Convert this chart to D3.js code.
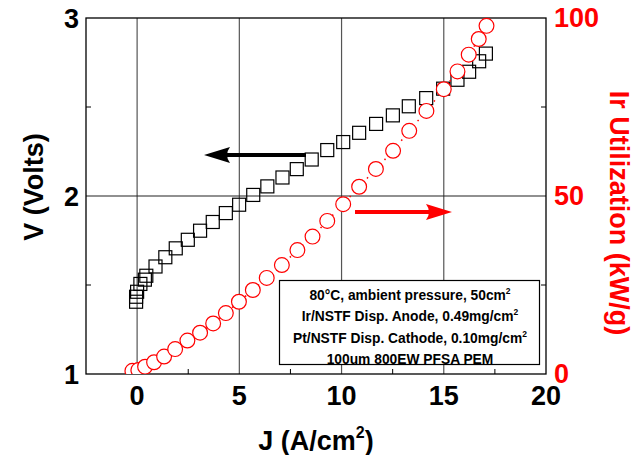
<!DOCTYPE html>
<html>
<head>
<meta charset="utf-8">
<script src="https://cdn.jsdelivr.net/npm/d3@7"></script>
<style>
	body { margin: 0; background: #fff; }
	svg { display: block; font-family: "Liberation Sans", Arial, sans-serif; font-weight: bold; }
</style>
</head>
<body>
<svg id="chart" width="633" height="455"></svg>
<script>
// polarization curve (squares), J in A/cm2, V in volts
var vJ = [-0.05, -0.05, 0.0, 0.16, 0.38, 0.45, 0.9, 1.38, 1.89, 2.48, 3.08, 3.70, 4.34, 4.99,
	5.68, 6.37, 7.11, 7.81, 8.54, 9.30, 10.08, 10.86, 11.69, 12.51, 13.29, 14.14, 14.97, 15.67, 16.24, 16.73, 17.06]
var vV = [1.406, 1.434, 1.462, 1.506, 1.53, 1.552, 1.604, 1.656, 1.706, 1.754, 1.805, 1.854, 1.904, 1.951,
	2.006, 2.054, 2.104, 2.151, 2.205, 2.258, 2.303, 2.355, 2.405, 2.453, 2.504, 2.55, 2.603, 2.653, 2.698, 2.757, 2.80]

// Ir utilization (circles), kW/g
var uJ = [-0.23, 0.06, 0.39, 0.83, 1.32, 1.86, 2.46, 3.08, 3.72, 4.34, 4.98, 5.66, 6.34, 7.08, 7.84,
	8.58, 9.30, 10.08, 10.86, 11.68, 12.52, 13.31, 14.15, 15.0, 15.67, 16.22, 16.71, 17.09]
var uU = [0.9, 1.1, 2.05, 3.3, 4.9, 7.0, 9.4, 11.6, 14.2, 17.1, 20.3, 23.6, 27.0, 30.6, 34.8,
	38.6, 43.0, 47.7, 52.6, 57.6, 62.7, 68.3, 73.9, 80.0, 85.0, 89.7, 94.1, 97.8]

var xTicks = [0, 5, 10, 15, 20]
var xMinor = [2.5, 7.5, 12.5, 17.5]
var vTicks = [1, 2, 3]
var vMinor = [1.5, 2.5]
var uTicks = [0, 50, 100]
var uMinor = [25, 75]

var noteLines = [
	["80\u00b0C, ambient pressure, 50cm", "2"],
	["Ir/NSTF Disp. Anode, 0.49mg/cm", "2"],
	["Pt/NSTF Disp. Cathode, 0.10mg/cm", "2"],
	["100um 800EW PFSA PEM", ""]
]

var plotL = 86, plotR = 546, plotT = 18, plotB = 374
var red = "#ff0000"

var svg = d3.select('#chart')

var x = d3.scaleLinear().domain([-2.5, 20]).range([plotL, plotR])
var yV = d3.scaleLinear().domain([1, 3]).range([plotB, plotT])
var yU = d3.scaleLinear().domain([0, 100]).range([plotB, plotT])

svg.append('defs').append('clipPath').attr('id', 'plotclip')
	.append('rect')
	.attr('x', plotL).attr('y', plotT - 10)
	.attr('width', plotR - plotL + 10).attr('height', plotB - plotT + 10)

// grid lines
svg.selectAll('.vgrid')
	.data(xTicks.filter(d => d < 20))
	.join('line')
		.attr('x1', d => x(d)).attr('x2', d => x(d))
		.attr('y1', plotT).attr('y2', plotB)
		.attr('stroke', '#555').attr('stroke-width', 1.2)

svg.append('line')
	.attr('x1', plotL).attr('x2', plotR)
	.attr('y1', yV(2)).attr('y2', yV(2))
	.attr('stroke', '#222').attr('stroke-width', 1.2)

// minor ticks
svg.selectAll('.xminor')
	.data(xMinor)
	.join('line')
		.attr('x1', d => x(d)).attr('x2', d => x(d))
		.attr('y1', plotB).attr('y2', plotB - 5)
		.attr('stroke', '#000')

svg.selectAll('.vminor')
	.data(vMinor)
	.join('line')
		.attr('x1', plotL).attr('x2', plotL + 5)
		.attr('y1', d => yV(d)).attr('y2', d => yV(d))
		.attr('stroke', '#000')

svg.selectAll('.uminor')
	.data(uMinor)
	.join('line')
		.attr('x1', plotR).attr('x2', plotR - 5)
		.attr('y1', d => yU(d)).attr('y2', d => yU(d))
		.attr('stroke', '#000')

// frame
svg.append('rect')
	.attr('x', plotL).attr('y', plotT)
	.attr('width', plotR - plotL).attr('height', plotB - plotT)
	.attr('fill', 'none').attr('stroke', '#000').attr('stroke-width', 1.3)

// note box
var noteG = svg.append('g')
noteG.append('rect')
	.attr('x', 279.5).attr('y', 280.5)
	.attr('width', 260).attr('height', 84)
	.attr('fill', '#fff').attr('stroke', '#000').attr('stroke-width', 1.2)

noteLines.forEach(function(l, i) {
	var t = noteG.append('text')
		.attr('x', 410).attr('y', 300 + i * 21.3)
		.attr('text-anchor', 'middle')
		.attr('font-size', 13.8)
	t.append('tspan').text(l[0])
	if (l[1]) t.append('tspan').attr('font-size', 8.5).attr('dy', -6).text(l[1])
})

var plot = svg.append('g').attr('clip-path', 'url(#plotclip)')

// squares
plot.selectAll('.sq')
	.data(vJ)
	.join('rect')
		.attr('x', (d, i) => x(d) - 6.5)
		.attr('y', (d, i) => yV(vV[i]) - 6.5)
		.attr('width', 13).attr('height', 13)
		.attr('fill', 'none').attr('stroke', '#000').attr('stroke-width', 1.2)

// dotted connecting line for circles
var uLine = d3.line().x(d => x(d[0])).y(d => yU(d[1]))
plot.append('path')
	.attr('d', uLine(uJ.map((d, i) => [d, uU[i]])))
	.attr('fill', 'none').attr('stroke', red).attr('stroke-width', 1.5)
	.attr('stroke-dasharray', '1.5,7')

// circles
plot.selectAll('.circ')
	.data(uJ)
	.join('circle')
		.attr('cx', d => x(d))
		.attr('cy', (d, i) => yU(uU[i]))
		.attr('r', 7.4)
		.attr('fill', '#fff').attr('stroke', red).attr('stroke-width', 1.2)

// arrows
function arrow(x0, x1, y, color) {
	var dir = x1 > x0 ? 1 : -1
	var headLen = 26
	svg.append('line')
		.attr('x1', x0).attr('x2', x1 - dir * headLen + dir * 4)
		.attr('y1', y).attr('y2', y)
		.attr('stroke', color).attr('stroke-width', 4)
	svg.append('path')
		.attr('d', 'M' + x1 + ',' + y +
			' L' + (x1 - dir * headLen) + ',' + (y - 8) +
			' Q' + (x1 - dir * (headLen - 6)) + ',' + y + ' ' + (x1 - dir * headLen) + ',' + (y + 8) + ' Z')
		.attr('fill', color)
}
arrow(306, 204, 155, '#000')
arrow(355, 452, 212, red)

// tick labels
svg.selectAll('.xlab')
	.data(xTicks)
	.join('text')
		.attr('x', d => x(d)).attr('y', 405)
		.attr('text-anchor', 'middle')
		.attr('font-size', 27)
		.text(d => d)

svg.selectAll('.vlab')
	.data(vTicks)
	.join('text')
		.attr('x', 79).attr('y', d => yV(d) + 10)
		.attr('text-anchor', 'end')
		.attr('font-size', 27)
		.text(d => d)

svg.selectAll('.ulab')
	.data(uTicks)
	.join('text')
		.attr('x', 554).attr('y', d => yU(d) + 9)
		.attr('font-size', 27)
		.attr('fill', red)
		.text(d => d)

// axis titles
var xt = svg.append('text')
	.attr('x', 316).attr('y', 450)
	.attr('text-anchor', 'middle')
	.attr('font-size', 27)
xt.append('tspan').text('J (A/cm')
xt.append('tspan').attr('font-size', 16).attr('dy', -12).text('2')
xt.append('tspan').attr('dy', 12).text(')')

svg.append('text')
	.attr('transform', 'translate(43,187) rotate(-90)')
	.attr('text-anchor', 'middle')
	.attr('font-size', 27)
	.text('V (Volts)')

svg.append('text')
	.attr('transform', 'translate(610,213) rotate(90)')
	.attr('text-anchor', 'middle')
	.attr('font-size', 27)
	.attr('fill', red)
	.text('Ir Utilization (kW/g)')
</script>
</body>
</html>
